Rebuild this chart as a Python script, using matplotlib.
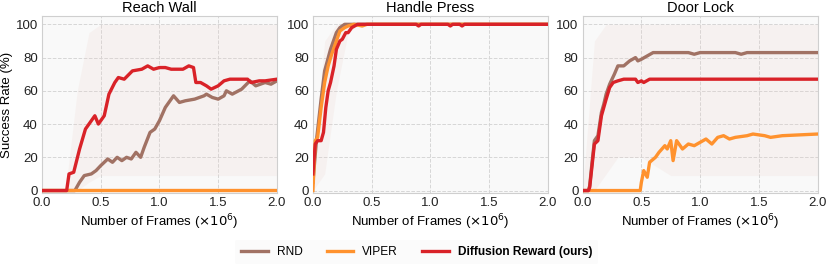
import numpy as np
import matplotlib.pyplot as plt

plt.rcParams['font.family'] = ['Liberation Sans', 'DejaVu Sans']

titles = ['Reach Wall', 'Handle Press', 'Door Lock']
labels = ['RND', 'VIPER', 'Diffusion Reward (ours)']
colors = ['#a17264', '#ff922e', '#d92228']

# Reach Wall
rw_rnd_x = [0, 0.28, 0.32, 0.36, 0.42, 0.46, 0.5, 0.56, 0.6, 0.64, 0.68, 0.72, 0.76, 0.8, 0.84, 0.87,
            0.92, 0.96, 1.0, 1.05, 1.1, 1.12, 1.17, 1.22, 1.3, 1.38, 1.4, 1.45, 1.5, 1.55, 1.57, 1.62,
            1.7, 1.77, 1.82, 1.9, 1.95, 2.0]
rw_rnd_y = [0, 0, 5, 9, 10, 12, 15, 19, 17, 20, 18, 20, 19, 23, 20, 26,
            35, 37, 42, 50, 55, 57, 53, 54, 55, 57, 58, 56, 55, 57, 60, 58,
            61, 66, 63, 65, 64, 66]
rw_vip_x = [0, 2.0]
rw_vip_y = [0.5, 0.5]
rw_dif_x = [0, 0.21, 0.23, 0.27, 0.32, 0.37, 0.45, 0.48, 0.53, 0.57, 0.62, 0.65, 0.7, 0.77, 0.85, 0.9,
            0.95, 1.0, 1.05, 1.1, 1.2, 1.25, 1.29, 1.31, 1.35, 1.4, 1.44, 1.5, 1.55, 1.6, 1.75, 1.78,
            1.85, 1.9, 2.0]
rw_dif_y = [0, 0, 10, 11, 25, 37, 45, 40, 45, 58, 65, 68, 67, 72, 73, 75,
            73, 74, 74, 73, 73, 75, 74, 65, 65, 63, 61, 63, 66, 67, 67, 65,
            66, 66, 67]

# Handle Press
hp_rnd_x = [0, 0.03, 0.07, 0.1, 0.15, 0.2, 0.23, 0.27, 2.0]
hp_rnd_y = [5, 30, 55, 72, 85, 95, 98, 100, 100]
hp_vip_x = [0, 0.02, 0.04, 0.07, 0.1, 0.13, 0.16, 0.2, 0.23, 0.27, 0.3, 0.35, 0.42, 0.46, 2.0]
hp_vip_y = [0, 30, 32, 50, 65, 75, 82, 90, 96, 98, 99, 100, 99, 100, 100]
hp_dif_x = [0, 0.02, 0.04, 0.07, 0.09, 0.11, 0.13, 0.15, 0.18, 0.2, 0.23, 0.25, 0.28, 0.3, 0.33, 0.38,
            0.88, 0.9, 0.92, 1.15, 1.17, 1.19, 1.25, 1.27, 1.29, 2.0]
hp_dif_y = [10, 28, 30, 30, 35, 50, 60, 65, 75, 85, 90, 91, 95, 95, 98, 100,
            100, 99, 100, 100, 99, 100, 100, 99, 100, 100]

# Door Lock
dl_rnd_x = [0, 0.05, 0.06, 0.08, 0.1, 0.13, 0.16, 0.18, 0.2, 0.23, 0.27, 0.3, 0.35, 0.4, 0.45, 0.47,
            0.5, 0.55, 0.6, 0.7, 0.9, 0.95, 1.0, 1.3, 1.35, 1.4, 2.0]
dl_rnd_y = [0, 0, 3, 17, 30, 33, 47, 52, 58, 64, 70, 75, 75, 78, 80, 78,
            79, 81, 83, 83, 83, 82, 83, 83, 82, 83, 83]
dl_vip_x = [0, 0.49, 0.5, 0.52, 0.55, 0.57, 0.62, 0.65, 0.7, 0.72, 0.75, 0.77, 0.8, 0.85, 0.9, 0.95,
            1.0, 1.05, 1.1, 1.15, 1.2, 1.25, 1.3, 1.4, 1.45, 1.55, 1.6, 1.7, 2.0]
dl_vip_y = [0, 0, 5, 12, 8, 17, 20, 23, 27, 25, 30, 18, 30, 25, 28, 27,
            29, 31, 28, 32, 33, 31, 32, 33, 34, 33, 32, 33, 34]
dl_dif_x = [0, 0.05, 0.06, 0.08, 0.1, 0.13, 0.16, 0.18, 0.2, 0.23, 0.26, 0.3, 0.35, 0.45, 0.47, 0.5,
            0.52, 0.57, 2.0]
dl_dif_y = [0, 0, 2, 15, 28, 30, 45, 50, 55, 62, 65, 66, 67, 67, 65, 66,
            65, 67, 67]

# faint spread bands (lower, upper) on a coarse grid
band_x = [0, 0.1, 0.2, 0.3, 0.4, 0.5, 0.75, 1.0, 1.25, 1.5, 1.75, 2.0]
rw_band_lo = [0, 0, 0, 0, 5, 9, 9, 9, 9, 9, 9, 9]
rw_band_hi = [0, 0, 0, 60, 95, 100, 100, 100, 100, 100, 100, 100]
hp_band_lo = [0, 10, 60, 95, 100, 100, 100, 100, 100, 100, 100, 100]
hp_band_hi = [15, 90, 100, 100, 100, 100, 100, 100, 100, 100, 100, 100]
dl_band_lo = [0, 0, 10, 20, 20, 20, 9, 9, 9, 9, 9, 9]
dl_band_hi = [0, 90, 100, 100, 100, 100, 100, 100, 100, 100, 100, 100]

panels = [
    [(rw_rnd_x, rw_rnd_y), (rw_vip_x, rw_vip_y), (rw_dif_x, rw_dif_y), (rw_band_lo, rw_band_hi)],
    [(hp_rnd_x, hp_rnd_y), (hp_vip_x, hp_vip_y), (hp_dif_x, hp_dif_y), (hp_band_lo, hp_band_hi)],
    [(dl_rnd_x, dl_rnd_y), (dl_vip_x, dl_vip_y), (dl_dif_x, dl_dif_y), (dl_band_lo, dl_band_hi)],
]

fig = plt.figure(figsize=(8.3, 2.67), dpi=100)
lefts = [0.0506, 0.377, 0.702]
axes = [fig.add_axes([l, 0.277, 0.283, 0.663]) for l in lefts]

for ax, title, panel in zip(axes, titles, panels):
    ax.set_facecolor('#f9f9f9')
    lo, hi = panel[3]
    ax.fill_between(band_x, lo, hi, color='#ecd0c8', alpha=0.18, lw=0, zorder=1)
    for (x, y), c, lab in zip(panel[:3], colors, labels):
        ax.plot(x, y, color=c, lw=2.4, label=lab, zorder=3)
    ax.set_xlim(0, 2)
    ax.set_ylim(-1.5, 105)
    ax.set_xticks([0, 0.5, 1.0, 1.5, 2.0])
    ax.set_xticklabels(['0.0', '0.5', '1.0', '1.5', '2.0'])
    ax.set_yticks([0, 20, 40, 60, 80, 100])
    ax.grid(True, ls='--', color='#d6d6d6', lw=0.7, zorder=0)
    ax.set_axisbelow(True)
    for s in ax.spines.values():
        s.set_color('#cfcfcf')
        s.set_linewidth(0.8)
    ax.tick_params(labelsize=9.5, length=0, pad=3, colors='#222222')
    ax.set_title(title, fontsize=10.5, pad=3)
    ax.set_xlabel('Number of Frames ($\\times10^6$)', fontsize=9.5, labelpad=2)

axes[0].set_ylabel('Success Rate (%)', fontsize=9.5, labelpad=2)

handles, labs = axes[0].get_legend_handles_labels()
leg = fig.legend(handles, labs, loc='center', bbox_to_anchor=(0.502, 0.056), ncol=3,
                 fontsize=8.6, frameon=True, handlelength=2.25, columnspacing=2.0,
                 handletextpad=0.75, borderpad=0.5)
leg.get_frame().set_facecolor('#fafafa')
leg.get_frame().set_edgecolor('none')
leg.get_texts()[2].set_fontweight('bold')

fig.savefig('out.png', dpi=100)
